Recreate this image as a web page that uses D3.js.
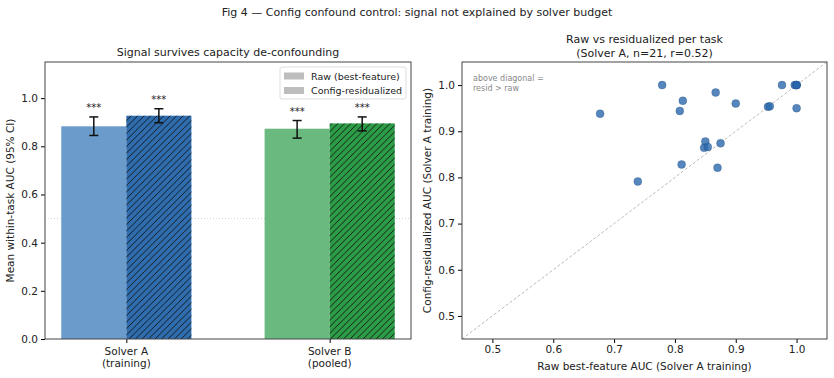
<!DOCTYPE html>
<html lang="en">
<head>
  <meta charset="UTF-8">
  <title>Fig 4 - Config confound control</title>
  <script src="https://d3js.org/d3.v7.min.js"></script>
  <style>
    body { margin: 0; background: #fff; }
    text { font-family: "DejaVu Sans", sans-serif; fill: #222; }
  </style>
</head>
<body>
  <div id="chart"></div>
  <script>
    // Bar panel data
    var solvers = ["Solver A|(training)", "Solver B|(pooled)"];
    var rawMean = [0.883, 0.873];
    var rawLo = [0.845, 0.834];
    var rawHi = [0.922, 0.907];
    var residMean = [0.927, 0.895];
    var residLo = [0.898, 0.864];
    var residHi = [0.956, 0.922];
    var rawColors = ["#6b9bca", "#6aba80"];
    var residColors = ["#2f6dae", "#2c9c47"];
    var barTicks = [0, 0.2, 0.4, 0.6, 0.8, 1.0];

    // Scatter panel data (per task, Solver A)
    var rawAuc = [0.677, 0.779, 0.739, 0.808, 0.813, 0.811, 0.867, 0.900, 0.850, 0.848, 0.854,
                  0.875, 0.870, 0.953, 0.956, 0.976, 0.997, 1.000, 1.000, 1.000, 1.000];
    var residAuc = [0.938, 1.000, 0.791, 0.944, 0.966, 0.828, 0.984, 0.960, 0.878, 0.864, 0.866,
                    0.874, 0.821, 0.953, 0.954, 1.000, 1.000, 1.000, 1.000, 1.000, 0.950];
    var scatterTicks = [0.5, 0.6, 0.7, 0.8, 0.9, 1.0];

    var W = 834, H = 378;
    var svg = d3.select("#chart").append("svg")
      .attr("width", W).attr("height", H);

    // hatch pattern
    var defs = svg.append("defs");
    var hs = 6.5;
    var pat = defs.append("pattern")
      .attr("id", "hatch")
      .attr("patternUnits", "userSpaceOnUse")
      .attr("width", hs).attr("height", hs);
    pat.append("path")
      .attr("d", "M-1,1 l2,-2 M0," + hs + " l" + hs + ",-" + hs + " M" + (hs - 1) + "," + (hs + 1) + " l2,-2")
      .attr("stroke", "#111").attr("stroke-width", 0.9);

    // Figure title
    svg.append("text")
      .attr("x", 417).attr("y", 16)
      .attr("text-anchor", "middle")
      .style("font-size", "11px")
      .text("Fig 4 \u2014 Config confound control: signal not explained by solver budget");

    // ---------------- Left panel: bars ----------------
    var L = {left: 45, right: 411, top: 62, bottom: 339};
    var x = d3.scaleLinear().domain([-0.4, 1.4]).range([L.left, L.right]);
    var y = d3.scaleLinear().domain([0, 1.15]).range([L.bottom, L.top]);
    var bw = 0.32;
    var g1 = svg.append("g");

    // chance line
    g1.append("line")
      .attr("x1", L.left).attr("x2", L.right)
      .attr("y1", y(0.5)).attr("y2", y(0.5))
      .attr("stroke", "#ccc").attr("stroke-width", 0.8)
      .attr("stroke-dasharray", "1,2");

    solvers.forEach(function(s, i) {
      // raw bar
      g1.append("rect")
        .attr("x", x(i - bw)).attr("width", x(i) - x(i - bw))
        .attr("y", y(rawMean[i])).attr("height", y(0) - y(rawMean[i]))
        .attr("fill", rawColors[i]);
      // residualized bar
      g1.append("rect")
        .attr("x", x(i)).attr("width", x(i + bw) - x(i))
        .attr("y", y(residMean[i])).attr("height", y(0) - y(residMean[i]))
        .attr("fill", residColors[i]);
      g1.append("rect")
        .attr("x", x(i)).attr("width", x(i + bw) - x(i))
        .attr("y", y(residMean[i])).attr("height", y(0) - y(residMean[i]))
        .attr("fill", "url(#hatch)");

      [[i - bw / 2, rawLo[i], rawHi[i]], [i + bw / 2, residLo[i], residHi[i]]].forEach(function(e) {
        var cx = x(e[0]);
        var eg = g1.append("g").attr("stroke", "#111").attr("stroke-width", 1.5);
        eg.append("line").attr("x1", cx).attr("x2", cx).attr("y1", y(e[1])).attr("y2", y(e[2]));
        eg.append("line").attr("x1", cx - 4.5).attr("x2", cx + 4.5).attr("y1", y(e[1])).attr("y2", y(e[1]));
        eg.append("line").attr("x1", cx - 4.5).attr("x2", cx + 4.5).attr("y1", y(e[2])).attr("y2", y(e[2]));
        g1.append("text")
          .attr("x", cx).attr("y", y(e[2]) - 6)
          .attr("text-anchor", "middle")
          .style("font-size", "10px")
          .text("***");
      });
    });

    // axes
    var yAx = g1.append("g")
      .attr("transform", "translate(" + L.left + ",0)")
      .call(d3.axisLeft(y).tickValues(barTicks).tickFormat(d3.format(".1f")).tickSize(4));
    var xAx = g1.append("g")
      .attr("transform", "translate(0," + L.bottom + ")")
      .call(d3.axisBottom(x).tickValues([0, 1]).tickFormat("").tickSize(4));
    [yAx, xAx].forEach(function(a) {
      a.select(".domain").remove();
      a.selectAll("text").style("font-size", "10.5px").attr("fill", "#222");
    });
    solvers.forEach(function(s, i) {
      var parts = s.split("|");
      var t = g1.append("text")
        .attr("x", x(i)).attr("y", L.bottom + 16)
        .attr("text-anchor", "middle")
        .style("font-size", "10.5px");
      t.append("tspan").attr("x", x(i)).text(parts[0]);
      t.append("tspan").attr("x", x(i)).attr("dy", 12).text(parts[1]);
    });
    g1.append("rect")
      .attr("x", L.left).attr("y", L.top)
      .attr("width", L.right - L.left).attr("height", L.bottom - L.top)
      .attr("fill", "none").attr("stroke", "#444").attr("stroke-width", 1);

    g1.append("text")
      .attr("x", (L.left + L.right) / 2).attr("y", 56)
      .attr("text-anchor", "middle")
      .style("font-size", "11px")
      .text("Signal survives capacity de-confounding");
    g1.append("text")
      .attr("transform", "translate(14," + (L.top + L.bottom) / 2 + ") rotate(-90)")
      .attr("text-anchor", "middle")
      .style("font-size", "10.5px")
      .text("Mean within-task AUC (95% CI)");

    // legend
    var lg = g1.append("g");
    lg.append("rect")
      .attr("x", 280).attr("y", 67).attr("width", 126).attr("height", 32)
      .attr("rx", 2).attr("fill", "#fff").attr("fill-opacity", 0.8)
      .attr("stroke", "#ddd");
    ["Raw (best-feature)", "Config-residualized"].forEach(function(lab, k) {
      var ly = 76 + k * 14.5;
      lg.append("rect").attr("x", 284).attr("y", ly - 3.5).attr("width", 20).attr("height", 7)
        .attr("fill", "#bdbdbd");
      lg.append("text").attr("x", 311).attr("y", ly + 3.5)
        .style("font-size", "9.5px").text(lab);
    });

    // ---------------- Right panel: scatter ----------------
    var R = {left: 462, right: 827, top: 62, bottom: 339};
    var sx = d3.scaleLinear().domain([0.45, 1.05]).range([R.left, R.right]);
    var sy = d3.scaleLinear().domain([0.45, 1.05]).range([R.bottom, R.top]);
    var g2 = svg.append("g");

    g2.append("line")
      .attr("x1", sx(0.45)).attr("y1", sy(0.45))
      .attr("x2", sx(1.05)).attr("y2", sy(1.05))
      .attr("stroke", "#aaa").attr("stroke-width", 0.8)
      .attr("stroke-dasharray", "3,2");

    g2.selectAll("circle")
      .data(rawAuc)
      .enter().append("circle")
      .attr("cx", function(d) { return sx(d); })
      .attr("cy", function(d, i) { return sy(residAuc[i]); })
      .attr("r", 4)
      .attr("fill", "#2b68ad").attr("fill-opacity", 0.8)
      .attr("stroke", "#1a3f6a").attr("stroke-opacity", 0.5).attr("stroke-width", 0.5);

    var syAx = g2.append("g")
      .attr("transform", "translate(" + R.left + ",0)")
      .call(d3.axisLeft(sy).tickValues(scatterTicks).tickFormat(d3.format(".1f")).tickSize(4));
    var sxAx = g2.append("g")
      .attr("transform", "translate(0," + R.bottom + ")")
      .call(d3.axisBottom(sx).tickValues(scatterTicks).tickFormat(d3.format(".1f")).tickSize(4));
    [syAx, sxAx].forEach(function(a) {
      a.select(".domain").remove();
      a.selectAll("text").style("font-size", "10.5px").attr("fill", "#222");
    });
    g2.append("rect")
      .attr("x", R.left).attr("y", R.top)
      .attr("width", R.right - R.left).attr("height", R.bottom - R.top)
      .attr("fill", "none").attr("stroke", "#444").attr("stroke-width", 1);

    var st = g2.append("text")
      .attr("x", (R.left + R.right) / 2).attr("y", 43)
      .attr("text-anchor", "middle")
      .style("font-size", "11px");
    st.append("tspan").attr("x", (R.left + R.right) / 2).text("Raw vs residualized per task");
    st.append("tspan").attr("x", (R.left + R.right) / 2).attr("dy", 13.5).text("(Solver A, n=21, r=0.52)");

    var an = g2.append("text")
      .attr("x", 473).attr("y", 81)
      .style("font-size", "8px").style("fill", "#888");
    an.append("tspan").attr("x", 473).text("above diagonal =");
    an.append("tspan").attr("x", 473).attr("dy", 10).text("resid > raw");

    g2.append("text")
      .attr("x", (R.left + R.right) / 2).attr("y", 370)
      .attr("text-anchor", "middle")
      .style("font-size", "10.5px")
      .text("Raw best-feature AUC (Solver A training)");
    g2.append("text")
      .attr("transform", "translate(431," + (R.top + R.bottom) / 2 + ") rotate(-90)")
      .attr("text-anchor", "middle")
      .style("font-size", "10.5px")
      .text("Config-residualized AUC (Solver A training)");
  </script>
</body>
</html>
